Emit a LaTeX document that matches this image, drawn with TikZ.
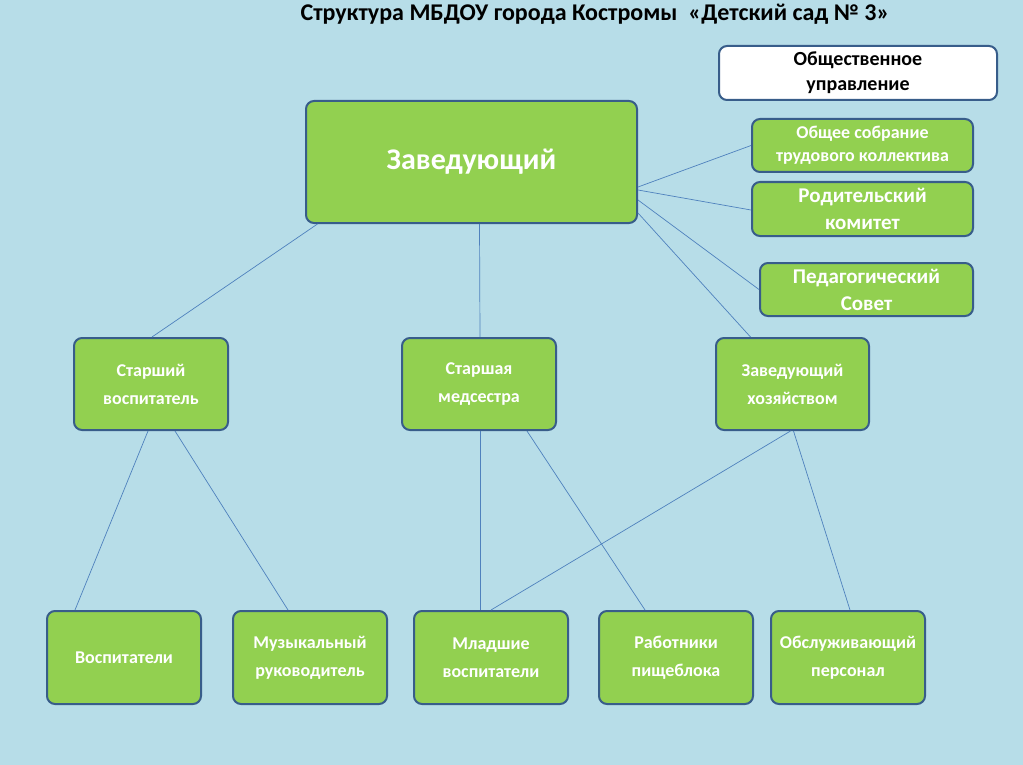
\documentclass[tikz,border=0pt]{standalone}
\usepackage{fontspec}
\setmainfont{Carlito}
\usetikzlibrary{positioning}
\definecolor{bgblue}{HTML}{B7DDE8}
\definecolor{boxgreen}{HTML}{92D050}
\definecolor{boxline}{HTML}{385D8A}
\definecolor{linkblue}{HTML}{4F81BD}
\tikzset{
  unit/.style = {draw=boxline, line width=2pt, fill=boxgreen, rounded corners=8pt,
    text=white, font=\bfseries\fontsize{18}{28}\selectfont, align=center, inner sep=2pt},
  council/.style = {unit, font=\bfseries\fontsize{21}{27}\selectfont},
  link/.style = {draw=linkblue, line width=0.7pt}
}
\begin{document}
\begin{tikzpicture}[x=1pt, y=-1pt]
\fill[bgblue] (0,0) rectangle (1023,765);
\node[font=\bfseries\fontsize{24}{28}\selectfont] (title) at (595,14) {Структура МБДОУ города Костромы \ «Детский сад № 3»};
% public management
\node[unit, fill=white, text=black, font=\bfseries\fontsize{20}{25}\selectfont, minimum width=278pt, minimum height=54pt] (public) at (858,73) {Общественное\\управление};
\node[unit, font=\bfseries\fontsize{30}{34}\selectfont, minimum width=331pt, minimum height=122pt] (head) at (471.5,162) {Заведующий};
\node[unit, font=\bfseries\fontsize{18}{23}\selectfont, minimum width=221pt, minimum height=53pt] (meeting) at (862.5,145.5) {Общее собрание\\трудового коллектива};
\node[council, minimum width=221pt, minimum height=54pt] (parents) at (862.5,209) {Родительский\\комитет};
\node[council, minimum width=213pt, minimum height=53pt] (pedsov) at (866.5,289.5) {Педагогический\\Совет};
% middle level
\node[unit, minimum width=154pt, minimum height=92pt] (senior) at (151,384) {Старший\\воспитатель};
\node[unit, minimum width=154pt, minimum height=92pt] (nurse) at (479,384) {Старшая\\медсестра};
\node[unit, minimum width=153pt, minimum height=92pt] (supply) at (792.5,384) {Заведующий\\хозяйством};
% bottom level
\node[unit, minimum width=154pt, minimum height=93pt] (teachers) at (124,657.5) {Воспитатели};
\node[unit, minimum width=154pt, minimum height=93pt] (music) at (310,657.5) {Музыкальный\\руководитель};
\node[unit, minimum width=154pt, minimum height=93pt] (junior) at (491,657.5) {Младшие\\воспитатели};
\node[unit, minimum width=154pt, minimum height=93pt] (kitchen) at (676,657.5) {Работники\\пищеблока};
\node[unit, minimum width=154pt, minimum height=93pt] (service) at (848,657.5) {Обслуживающий\\персонал};
% links
\draw[link] ([xshift=-154pt]head.south) -- ([xshift=1pt]senior.north);
\draw[link] ([xshift=8pt]head.south) -- ([xshift=1pt]nurse.north);
\draw[link] ([yshift=11pt]head.south east) -- ([xshift=-42pt]supply.north);
\draw[link] ([yshift=-25pt]head.east) -- (meeting.west);
\draw[link] ([yshift=-28pt]head.east) -- ([yshift=-1pt]parents.west);
\draw[link] ([yshift=-38pt]head.east) -- (pedsov.west);
\draw[link] ([xshift=-3pt]senior.south) -- ([xshift=-49pt]teachers.north);
\draw[link] ([xshift=24pt]senior.south) -- ([xshift=-22pt]music.north);
\draw[link] ([xshift=1pt]nurse.south) -- ([xshift=-11pt]junior.north);
\draw[link] ([xshift=48pt]nurse.south) -- ([xshift=-31pt]kitchen.north);
\draw[link] ([xshift=-2pt]supply.south) -- (junior.north);
\draw[link] ([xshift=1pt]supply.south) -- ([xshift=2pt]service.north);
\end{tikzpicture}
\end{document}
